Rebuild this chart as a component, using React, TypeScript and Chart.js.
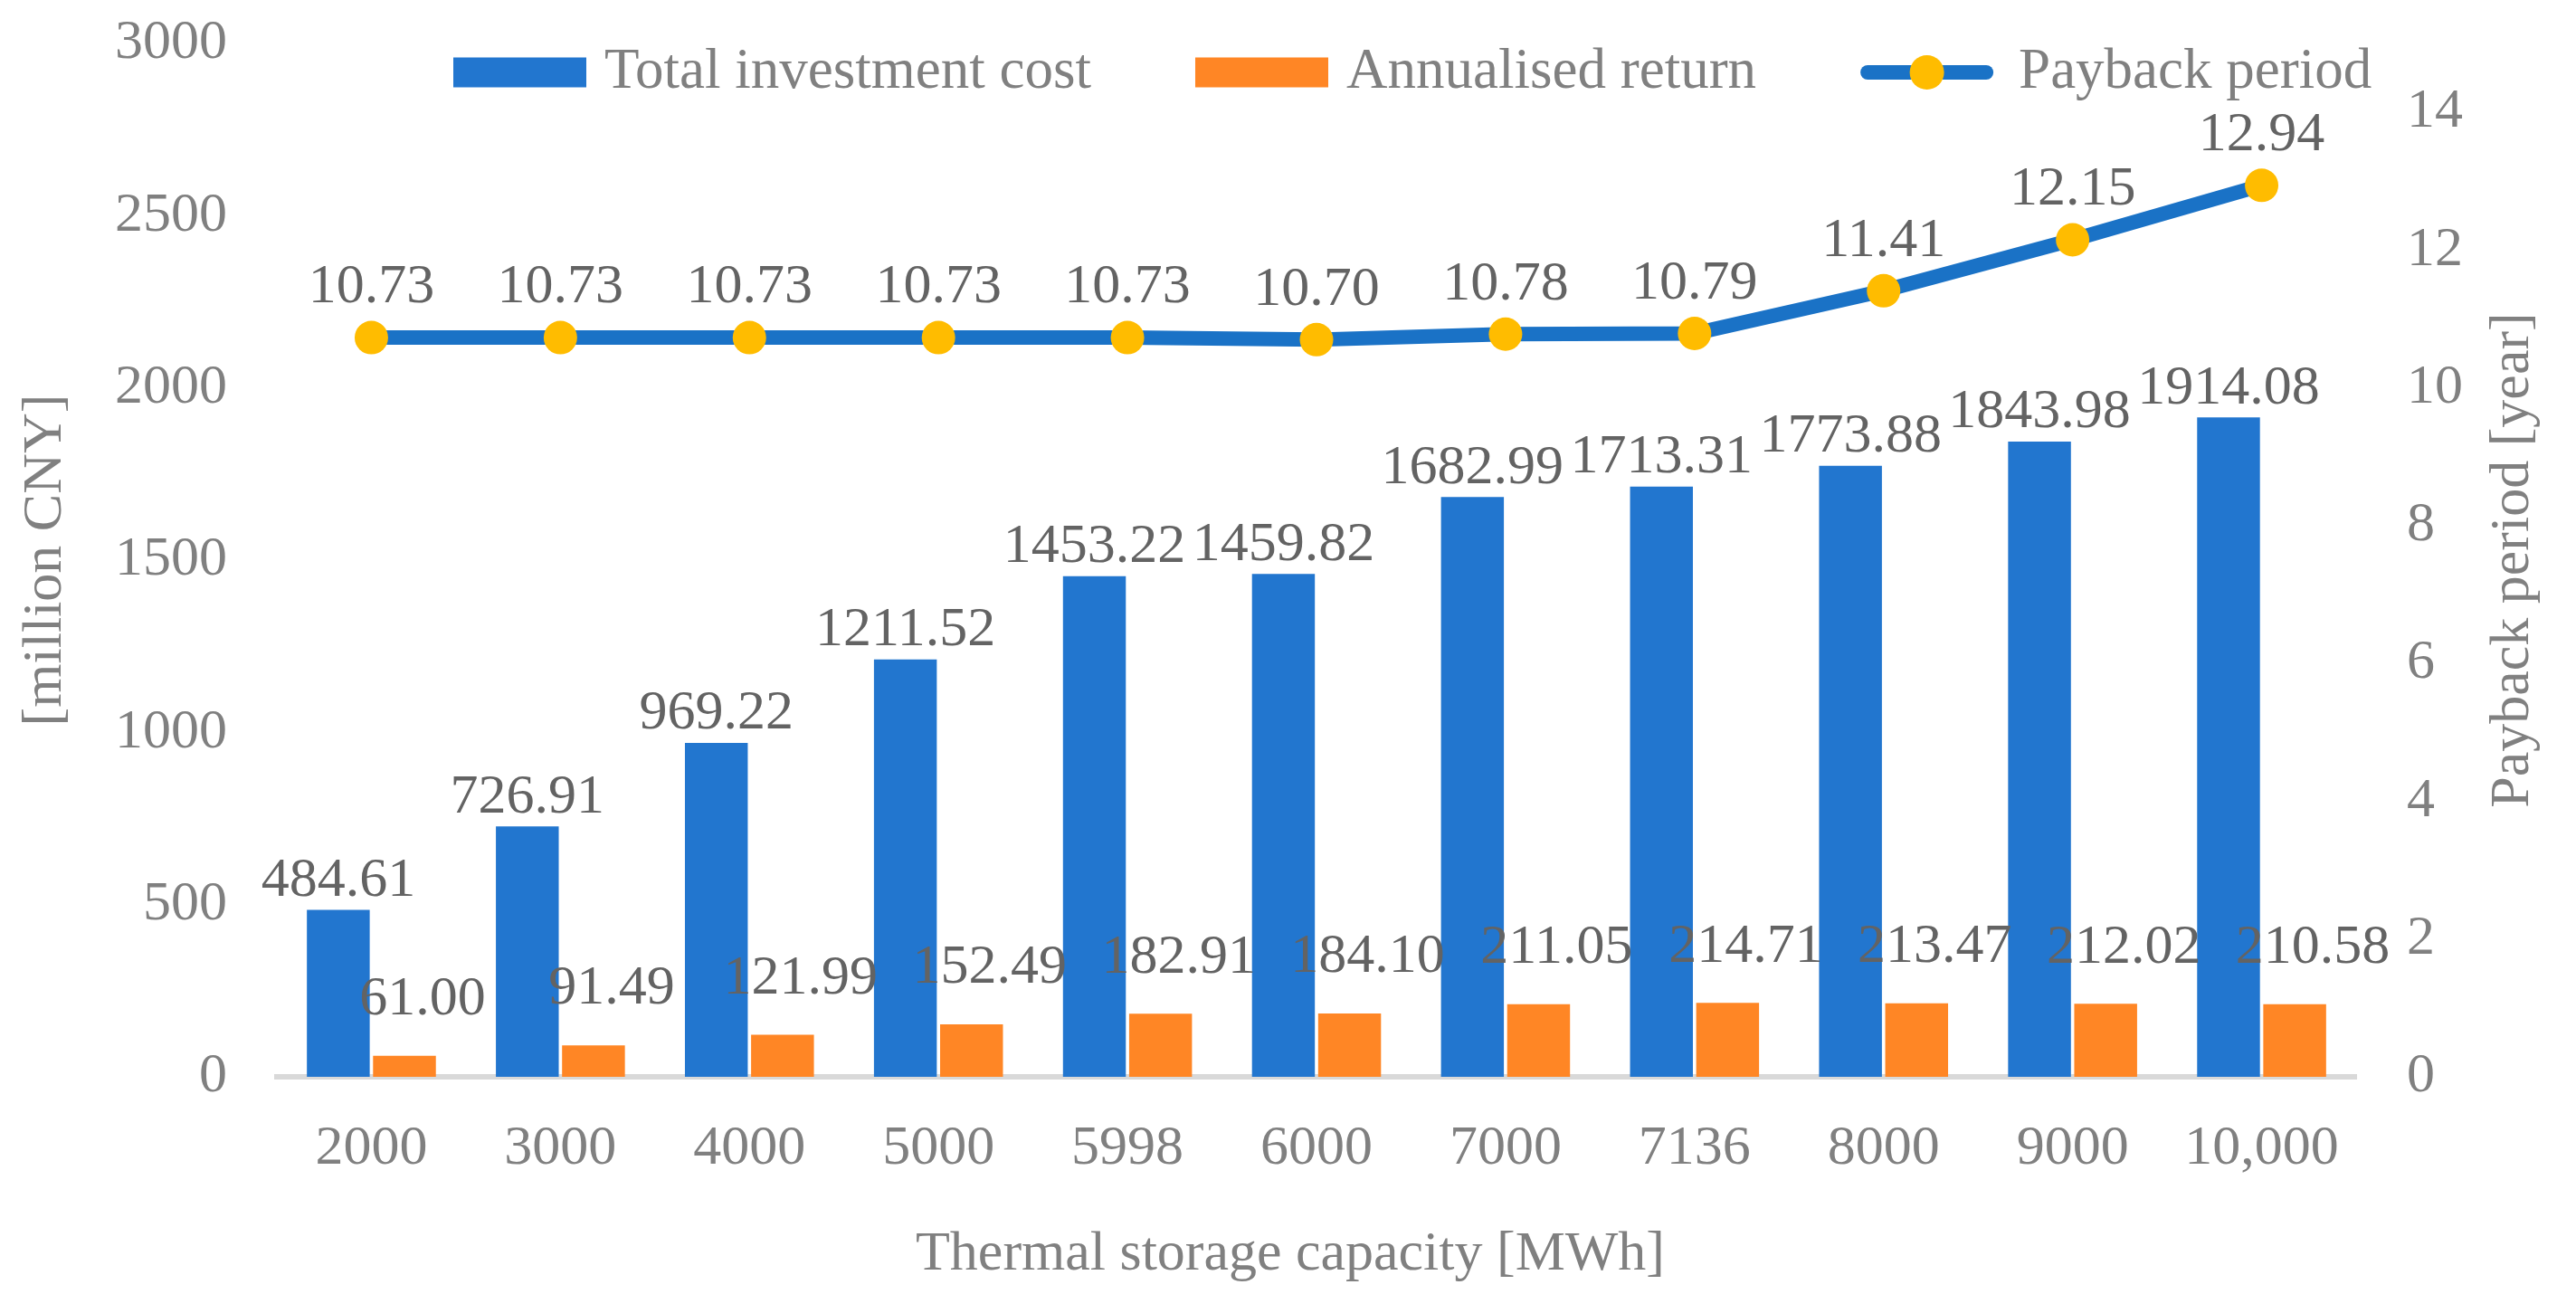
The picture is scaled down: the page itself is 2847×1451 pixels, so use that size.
import React, { useEffect, useRef } from "react";
import { Chart, registerables } from "chart.js";

Chart.register(...registerables);

const categories = ["2000", "3000", "4000", "5000", "5998", "6000", "7000", "7136", "8000", "9000", "10,000"];
const totalInvestment = [484.61, 726.91, 969.22, 1211.52, 1453.22, 1459.82, 1682.99, 1713.31, 1773.88, 1843.98, 1914.08];
const annualisedReturn = [61.0, 91.49, 121.99, 152.49, 182.91, 184.1, 211.05, 214.71, 213.47, 212.02, 210.58];
const paybackPeriod = [10.73, 10.73, 10.73, 10.73, 10.73, 10.7, 10.78, 10.79, 11.41, 12.15, 12.94];
const leftTicks = [0, 500, 1000, 1500, 2000, 2500, 3000];
const rightTicks = [0, 2, 4, 6, 8, 10, 12, 14];
const seriesNames = ["Total investment cost", "Annualised return", "Payback period"];
const xTitle = "Thermal storage capacity [MWh]";
const yTitle = "[million CNY]";
const y1Title = "Payback period [year]";

const FONT = "'Liberation Serif', 'Times New Roman', serif";
const FS = 62;
const AXIS_COLOR = "#808080";
const LABEL_COLOR = "#636363";
const BLUE = "#2276CF";
const ORANGE = "#FF8625";
const LINE_BLUE = "#1A72C6";
const YELLOW = "#FFBC00";

const labelPlugin = {
  id: "valueLabels",
  afterDatasetsDraw(chart: any) {
    const ctx = chart.ctx;
    ctx.save();
    ctx.font = `${FS}px ${FONT}`;
    ctx.fillStyle = LABEL_COLOR;
    ctx.textAlign = "center";
    ctx.textBaseline = "middle";
    chart.data.datasets.forEach((ds: any, i: number) => {
      const meta = chart.getDatasetMeta(i);
      meta.data.forEach((el: any, j: number) => {
        const v = ds.data[j] as number;
        const { x, y } = el.getProps(["x", "y"], true);
        let dx = 0;
        let dy = 0;
        if (i === 0) dy = -32;
        else if (i === 1) {
          dx = 20;
          dy = -62;
        } else dy = -55;
        ctx.fillText(v.toFixed(2), x + dx, y + dy);
      });
    });
    ctx.restore();
  },
};

const decorPlugin = {
  id: "decor",
  afterDraw(chart: any) {
    const ctx = chart.ctx;
    const area = chart.chartArea;
    ctx.save();
    ctx.font = `${FS}px ${FONT}`;
    ctx.fillStyle = AXIS_COLOR;
    ctx.textBaseline = "middle";
    ctx.textAlign = "center";
    const midY = (area.top + area.bottom) / 2;
    ctx.save();
    ctx.translate(51, midY);
    ctx.rotate(-Math.PI / 2);
    ctx.fillText(yTitle, 0, 0);
    ctx.restore();
    ctx.save();
    ctx.translate(2778, midY);
    ctx.rotate(-Math.PI / 2);
    ctx.fillText(y1Title, 0, 0);
    ctx.restore();
    ctx.fillText(xTitle, 1426, 1387);

    const ds = chart.data.datasets;
    let x = 501;
    const cy = 80;
    const boxW = 147;
    const boxH = 33;
    ctx.font = `63px ${FONT}`;
    ctx.textAlign = "left";
    for (let i = 0; i < ds.length; i++) {
      const d = ds[i];
      let gap = 20;
      if (d.type === "line") {
        ctx.strokeStyle = d.borderColor;
        ctx.lineWidth = d.borderWidth;
        ctx.lineCap = "round";
        ctx.beginPath();
        ctx.moveTo(x + 8, cy);
        ctx.lineTo(x + boxW - 8, cy);
        ctx.stroke();
        ctx.fillStyle = d.pointBackgroundColor;
        ctx.beginPath();
        ctx.arc(x + boxW / 2, cy, 19, 0, Math.PI * 2);
        ctx.fill();
        gap = 28;
      } else {
        ctx.fillStyle = d.backgroundColor;
        ctx.fillRect(x, cy - boxH / 2, boxW, boxH);
      }
      ctx.fillStyle = AXIS_COLOR;
      const tx = x + boxW + gap;
      ctx.fillText(d.label, tx, cy);
      x = tx + ctx.measureText(d.label).width + 115;
    }
    ctx.restore();
  },
};

export default function App() {
  const ref = useRef<HTMLCanvasElement | null>(null);

  useEffect(() => {
    if (!ref.current) return;
    const tickFont = { family: FONT, size: FS };
    const chart = new Chart(ref.current, {
      type: "bar",
      data: {
        labels: categories,
        datasets: [
          {
            type: "bar",
            label: seriesNames[0],
            data: totalInvestment,
            backgroundColor: BLUE,
            yAxisID: "y",
            order: 1,
            categoryPercentage: 0.7,
            barPercentage: 0.95,
          } as any,
          {
            type: "bar",
            label: seriesNames[1],
            data: annualisedReturn,
            backgroundColor: ORANGE,
            yAxisID: "y",
            order: 1,
            categoryPercentage: 0.7,
            barPercentage: 0.95,
          } as any,
          {
            type: "line",
            label: seriesNames[2],
            data: paybackPeriod,
            borderColor: LINE_BLUE,
            borderWidth: 16,
            pointRadius: 18.5,
            pointBorderWidth: 0,
            pointBackgroundColor: YELLOW,
            pointHoverRadius: 18.5,
            tension: 0,
            yAxisID: "y1",
            order: 0,
            clip: false,
          } as any,
        ],
      },
      options: {
        responsive: false,
        animation: false,
        devicePixelRatio: 1,
        layout: { autoPadding: false, padding: { top: 48, left: 0, right: 0, bottom: 0 } },
        plugins: {
          legend: { display: false },
          tooltip: { enabled: false },
          title: { display: false },
        },
        scales: {
          x: {
            grid: { display: false },
            border: { display: true, color: "#D9D9D9", width: 6 },
            ticks: { color: AXIS_COLOR, font: tickFont, padding: 35, maxRotation: 0, autoSkip: false },
            afterFit: (s: any) => {
              s.height = 261;
              s.paddingLeft = 0;
              s.paddingRight = 0;
            },
          },
          y: {
            position: "left",
            min: 0,
            max: 3000,
            grid: { display: false },
            border: { display: false },
            ticks: { color: AXIS_COLOR, font: tickFont, padding: 47, callback: (v: any) => String(v) },
            afterBuildTicks: (s: any) => {
              s.ticks = leftTicks.map((v) => ({ value: v }));
            },
            afterFit: (s: any) => {
              s.width = 306;
              s.paddingTop = 0;
              s.paddingBottom = 0;
            },
          },
          y1: {
            position: "right",
            min: 0,
            max: 15,
            grid: { display: false },
            border: { display: false },
            ticks: { color: AXIS_COLOR, font: tickFont, padding: 48, callback: (v: any) => String(v) },
            afterBuildTicks: (s: any) => {
              s.ticks = rightTicks.map((v) => ({ value: v }));
            },
            afterFit: (s: any) => {
              s.width = 243;
              s.paddingTop = 0;
              s.paddingBottom = 0;
            },
          },
        },
      } as any,
      plugins: [labelPlugin, decorPlugin],
    });
    return () => chart.destroy();
  }, []);

  return (
    <div style={{ position: "fixed", left: 0, top: 0, width: 2847, height: 1451, background: "#fff" }}>
      <canvas ref={ref} width={2847} height={1451} style={{ display: "block", width: 2847, height: 1451 }} />
    </div>
  );
}
